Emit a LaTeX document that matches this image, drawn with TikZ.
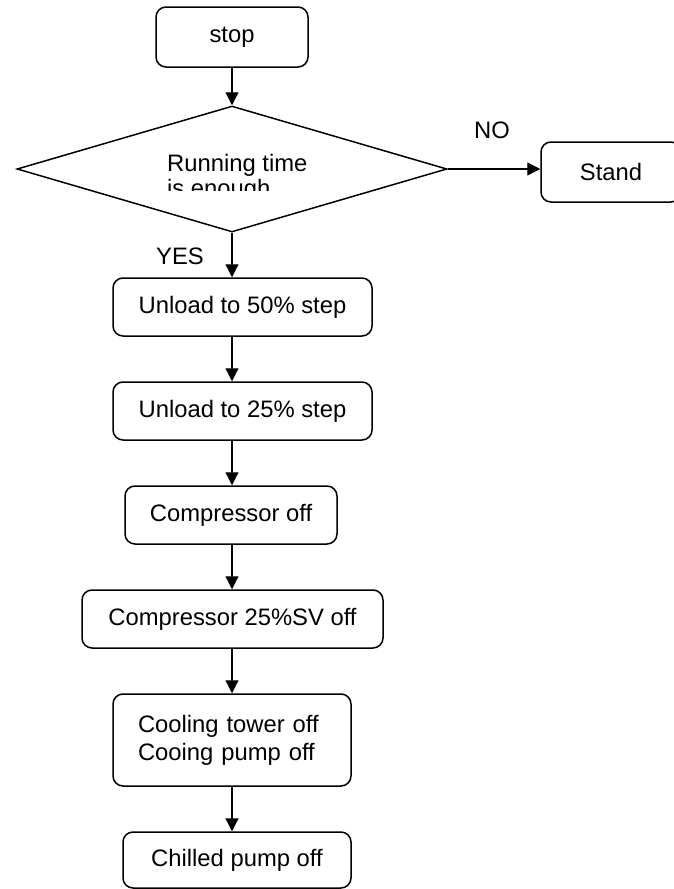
\documentclass[tikz,border=0pt]{standalone}
\usepackage{fontspec}
\setmainfont{Liberation Sans}
\usetikzlibrary{arrows.meta, shapes.geometric}

\begin{document}
\begin{tikzpicture}[x=1pt, y=-1pt,
            % Process boxes
            stage/.style={draw, rounded corners=10pt, line width=1.5pt,
                    minimum height=58pt, inner sep=0pt, align=center,
                    font=\fontsize{23.8}{28}\selectfont},
            % Decision diamond
            decision/.style={draw, diamond, line width=1.5pt, inner sep=0pt,
                    minimum width=430pt, minimum height=126pt},
            % Main flow arrow
            arr/.style={-{Triangle[length=13pt, width=13pt]}, line width=1.3pt},
            % Branch labels
            branch/.style={font=\fontsize{23.8}{25}\selectfont, inner sep=0pt}
        ]

        \useasboundingbox (0,0) rectangle (673,889);

        % Start
        \node[stage, minimum width=152pt, minimum height=60pt] (stop) at (232, 37) {stop};

        % Decision
        \node[decision] (test) at (232, 169) {};
        \begin{scope}
            \clip (0, 100) rectangle (673, 190);
            \node[branch, align=left, anchor=base west] (testtext) at (167, 196)
                {Running time\\is enough};
        \end{scope}

        % NO branch
        \node[stage, minimum width=140pt, minimum height=60pt] (stand) at (611, 172) {Stand};

        % YES branch
        \node[stage, minimum width=259pt] (unload50) at (242.5, 307) {Unload to 50\% step};
        \node[stage, minimum width=259pt] (unload25) at (242.5, 411) {Unload to 25\% step};
        \node[stage, minimum width=212pt] (compoff) at (231, 515) {Compressor off};
        \node[stage, minimum width=301pt] (comp25) at (232.5, 619) {Compressor 25\%SV off};
        \node[stage, minimum width=238pt, minimum height=92pt,
              text width=188pt, align=left] (cooling) at (232, 740)
            {Cooling tower off\\Cooing pump off};
        \node[stage, minimum width=228pt, minimum height=56pt] (chilled) at (237, 860) {Chilled pump off};

        % Labels
        \node[branch] (no) at (492, 130) {NO};
        \node[branch] (yes) at (180, 256) {YES};

        % Arrows
        \draw[arr] (stop.south) -- (test.north);
        \draw[arr] (test.east) -- (test.east -| stand.west);
        \draw[arr] (test.south) -- (test.south |- unload50.north);
        \draw[arr] (unload50.south -| test.south) -- (unload25.north -| test.south);
        \draw[arr] (unload25.south -| test.south) -- (compoff.north -| test.south);
        \draw[arr] (compoff.south -| test.south) -- (comp25.north -| test.south);
        \draw[arr] (comp25.south -| test.south) -- (cooling.north -| test.south);
        \draw[arr] (cooling.south -| test.south) -- (chilled.north -| test.south);

    \end{tikzpicture}
\end{document}
